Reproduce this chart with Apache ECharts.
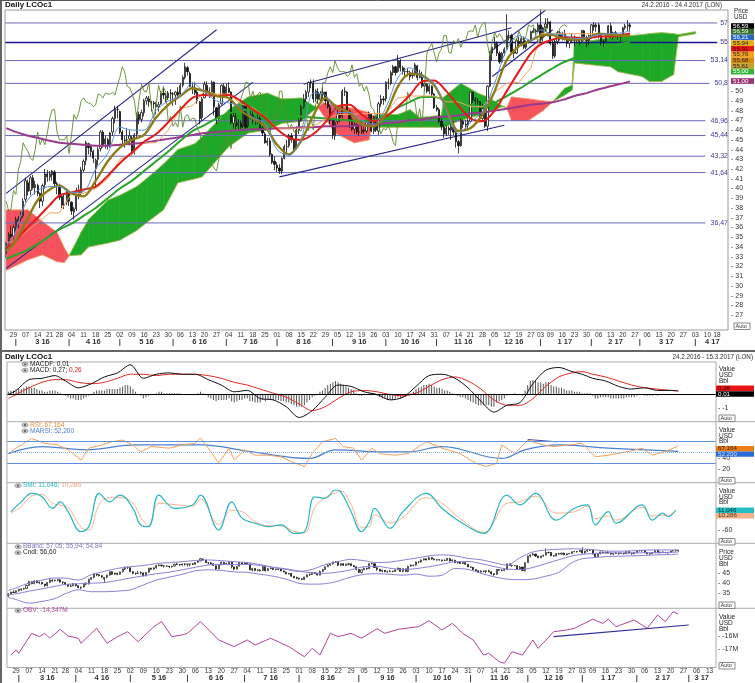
<!DOCTYPE html>
<html><head><meta charset="utf-8"><title>Daily LCOc1</title>
<script src="https://cdn.jsdelivr.net/npm/echarts@6.0.0/dist/echarts.min.js"></script>
<style>html,body{margin:0;padding:0;background:#fff;overflow:hidden}#c{width:755px;height:683px}</style>
</head><body><div id="c"></div>
<script>
// ---------------- DATA ----------------
const holidays = ['2016-03-25','2016-12-26','2017-01-02','2017-04-14','2017-04-17'];
// daily candles [open, close, low, high] from 2016-02-24 to 2017-02-23
const candles = [
[33.3,34.4,32.9,34.6],[34.4,35.3,34.0,35.5],[35.3,35.1,34.9,36.2],
[35.1,36.0,34.8,36.3],[36.0,36.8,35.6,37.1],[36.6,36.9,35.9,37.2],[36.9,37.1,36.6,37.6],[37.2,38.7,37.0,39.0],
[38.9,40.8,38.6,41.1],[40.6,39.7,39.3,40.9],[39.8,41.1,39.3,41.3],[41.1,40.1,39.9,41.4],[40.1,40.4,39.4,40.8],
[40.3,39.5,39.2,40.5],[39.5,38.7,38.0,39.6],[38.7,40.3,38.2,40.5],[40.4,41.5,40.0,42.0],[41.5,41.2,40.7,41.9],
[41.2,41.5,40.8,41.8],[41.4,41.8,40.8,41.9],[41.7,40.5,40.2,41.9],[40.5,40.4,39.4,40.7],
[40.3,39.1,38.8,40.5],[39.2,38.3,38.0,39.4],[38.4,38.3,37.9,39.5],[38.6,39.6,38.3,40.0],[39.5,38.7,38.2,39.8],
[38.6,37.7,37.3,38.7],[37.6,37.9,36.8,38.1],[37.9,39.8,37.7,40.1],[39.8,39.4,38.9,40.4],[39.5,41.9,39.3,42.2],
[41.9,42.8,41.7,43.0],[42.9,44.7,42.4,44.9],[44.6,44.2,43.5,44.7],[44.3,43.8,43.3,44.4],[43.8,43.1,42.6,44.0],
[42.0,42.9,40.1,43.1],[43.0,44.0,42.4,44.3],[44.1,45.8,43.8,46.0],[45.8,44.5,44.2,46.0],[44.6,45.1,44.1,45.4],
[45.0,44.5,44.0,45.2],[44.5,45.7,44.2,45.8],[45.8,47.2,45.4,47.4],[47.2,48.1,46.7,48.5],[48.1,48.1,47.2,48.5],
[47.9,45.8,45.6,48.0],[45.8,45.0,44.4,46.0],[44.9,45.0,44.2,45.4],[45.0,45.0,44.6,46.2],[45.1,45.4,44.4,46.0],
[45.2,43.6,43.4,45.4],[43.7,45.5,43.5,45.7],[45.6,47.6,45.2,47.8],[47.6,47.1,46.6,47.9],[47.1,47.8,46.8,48.1],
[47.8,49.0,47.4,49.2],[49.0,49.3,48.6,49.5],[49.2,48.9,48.4,49.5],[48.9,48.8,47.9,49.0],[48.8,48.7,48.2,49.0],
[48.6,48.4,47.6,48.9],[48.4,48.6,47.9,48.9],[48.7,49.7,48.6,50.0],[49.8,49.6,49.2,50.5],[49.5,49.3,48.8,49.8],
[49.3,49.8,49.1,50.0],[49.8,49.7,48.9,50.2],[49.7,49.7,48.5,49.9],[49.6,49.9,48.6,50.0],[49.9,49.6,49.3,50.4],
[49.7,50.6,49.4,50.8],[50.6,51.4,50.4,51.6],[51.4,52.5,51.2,52.9],[52.4,52.0,51.6,52.6],[51.8,50.5,50.4,52.0],
[50.4,50.4,49.7,50.9],[50.3,49.8,49.6,50.9],[49.9,49.0,48.7,50.2],[48.9,47.2,46.6,49.0],[47.3,49.2,47.0,49.4],
[49.3,50.7,49.3,51.0],[50.6,50.0,49.5,51.0],[50.0,49.9,49.3,50.4],[49.9,50.9,49.9,51.1],[50.9,48.4,47.5,51.0],
[48.3,47.2,46.6,48.4],[47.2,48.6,47.0,48.8],[48.7,50.6,48.6,50.7],[50.5,49.7,49.4,50.8],[49.6,50.4,49.4,50.8],
[50.3,49.9,49.8,50.9],[49.9,46.8,46.6,50.0],[46.7,47.4,46.0,47.8],[47.5,46.4,46.1,47.8],[46.5,46.8,45.9,47.1],
[46.7,46.3,45.9,47.0],[46.4,48.5,46.2,48.6],[48.5,46.3,46.0,48.6],[46.4,47.4,46.2,47.7],[47.4,47.6,47.1,48.0],
[47.5,47.0,46.6,47.9],[47.0,47.2,46.5,47.3],[47.1,47.2,46.6,47.6],[47.2,46.2,46.1,47.4],[46.2,45.7,45.4,46.4],
[45.6,44.7,44.6,45.8],[44.7,44.9,44.4,45.2],[44.9,43.5,43.3,45.2],[43.5,42.7,42.5,43.6],[42.8,42.5,41.9,43.3],
[42.4,42.1,41.7,42.7],[42.1,41.8,41.5,42.5],[41.8,43.1,41.5,43.2],[43.1,44.3,43.0,44.5],[44.3,44.3,43.6,45.0],
[44.4,45.4,44.2,45.6],[45.4,45.0,44.7,45.7],[45.0,44.1,43.9,45.1],[44.1,46.0,44.0,46.4],[46.0,47.0,45.6,47.2],
[47.0,48.4,46.9,48.6],[48.4,49.2,48.2,49.7],[49.2,49.9,48.9,50.1],[49.9,50.9,49.4,51.0],[50.9,50.9,50.3,51.2],
[50.8,49.2,48.8,51.2],[49.2,50.0,48.9,50.2],[49.9,49.1,48.7,50.3],[49.1,49.7,48.9,50.0],[49.6,49.9,49.1,50.4],
[49.9,49.0,48.6,49.9],[49.0,48.4,48.2,49.2],[48.3,47.0,46.6,48.6],[47.0,45.5,45.1,47.2],[45.4,46.8,45.0,47.0],
[46.9,47.6,46.6,48.1],[47.6,47.3,46.8,47.9],[47.4,50.0,47.2,50.2],[49.9,50.0,49.5,50.4],[49.9,48.0,47.8,50.0],
[47.9,47.1,46.2,48.1],[47.1,46.1,45.9,47.3],[46.1,46.6,45.6,46.9],[46.6,45.8,45.6,46.7],[45.8,45.8,45.4,46.4],
[45.8,46.0,45.6,46.8],[46.0,45.9,45.6,46.3],[45.9,46.8,45.7,47.1],[46.8,47.7,46.6,47.9],[47.6,45.9,45.8,47.7],
[45.9,47.4,45.6,47.5],[47.3,46.0,45.8,47.4],[45.9,48.7,45.5,48.9],[48.7,49.2,48.4,49.6],[49.2,49.1,48.6,49.5],
[49.2,50.9,48.9,51.0],[50.9,50.9,50.2,51.3],[50.8,51.9,50.6,52.1],[51.9,52.5,51.6,52.7],[52.5,51.9,51.6,52.6],
[52.0,53.1,51.9,53.7],[53.1,52.4,52.0,53.3],[52.4,52.0,51.7,52.6],[52.0,52.0,51.4,52.4],[52.0,52.0,51.5,52.4],
[51.9,51.5,51.1,52.1],[51.6,51.7,51.3,52.2],[51.7,52.7,51.5,52.9],[52.6,51.4,51.1,52.7],[51.4,51.8,51.3,52.2],
[51.7,50.5,50.3,52.0],[50.5,50.8,50.0,51.1],[50.7,50.0,49.8,50.8],[50.0,50.5,49.7,50.7],[50.5,49.7,49.4,50.6],
[49.7,48.3,48.2,49.8],[48.3,48.1,47.9,48.6],[48.1,46.9,46.7,48.3],[46.9,46.4,46.0,47.2],[46.3,45.6,45.2,46.6],
[45.6,46.2,45.4,46.5],[46.2,46.0,45.5,46.4],[46.0,46.4,45.0,46.6],[46.3,45.8,45.5,46.9],[45.8,44.8,44.2,45.9],
[44.8,44.4,43.6,45.0],[44.4,47.0,44.3,47.2],[46.9,46.6,46.2,47.1],[46.6,46.5,46.0,47.0],[46.5,46.9,46.1,47.2],
[46.9,49.9,46.8,49.9],[49.9,49.1,48.8,49.9],[49.1,49.0,48.3,49.4],[49.0,49.0,48.6,49.3],[48.9,47.2,46.8,49.0],
[47.2,48.2,46.9,48.7],[48.2,46.4,46.2,48.3],[46.4,50.5,45.9,50.6],[50.5,53.9,50.4,54.1],[53.9,54.5,53.1,54.6],
[54.5,54.9,54.3,55.6],[54.9,53.9,53.6,55.1],[53.9,53.0,52.8,54.1],[53.0,53.9,52.9,54.0],[53.9,54.3,53.6,54.5],
[54.3,55.7,54.3,57.9],[55.7,55.7,55.2,56.2],[55.7,54.0,53.8,55.9],[54.0,53.9,53.4,54.3],[53.9,55.2,53.8,55.4],
[55.1,54.9,54.5,55.6],[54.9,55.4,54.6,55.6],[55.4,54.5,54.3,55.6],[54.5,55.1,54.3,55.2],[55.0,55.2,54.9,55.3],
[55.2,56.1,55.1,56.2],[56.0,56.2,56.0,56.5],[56.2,56.1,55.7,56.4],[56.1,56.8,56.0,57.0],
[56.8,55.5,55.1,58.4],[55.5,56.5,55.1,56.6],[56.5,56.9,56.1,57.5],[56.9,57.1,56.4,57.5],
[57.1,54.9,54.7,57.2],[54.9,53.6,53.3,55.2],[53.6,55.1,53.4,55.3],[55.1,56.0,54.8,56.2],[56.0,55.5,55.2,56.2],
[55.5,55.9,55.2,56.1],[55.9,55.5,55.2,56.3],[55.5,54.9,54.5,55.6],[54.9,55.2,54.4,55.3],[55.2,55.5,55.0,55.9],
[55.5,55.2,54.6,55.7],[55.2,55.4,54.9,55.5],[55.4,55.1,54.7,55.6],[55.1,56.2,55.0,56.3],[56.2,55.5,55.2,56.3],
[55.5,55.2,54.5,55.7],[55.2,55.7,54.7,55.8],[55.7,56.8,55.4,56.9],[56.8,56.6,56.2,57.1],[56.6,56.8,56.1,57.0],
[56.8,55.7,55.4,57.0],[55.7,55.1,54.7,55.8],[55.1,55.1,54.5,55.3],[55.1,55.6,55.0,55.8],[55.6,56.7,55.5,56.8],
[56.7,55.6,55.4,57.0],[55.6,56.0,55.3,56.1],[56.0,55.8,55.5,56.2],[55.8,55.7,55.3,55.9],[55.6,55.8,55.1,55.9],
[55.8,56.5,55.6,56.6],[56.5,56.7,56.3,56.9],[56.7,56.8,56.2,57.3],[56.8,56.6,56.1,57.0]
];
// weekly sample positions (trading-day index) for indicator lines
const wk = [0,3,8,13,18,22,27,32,37,42,47,52,57,62,67,72,77,82,87,92,97,102,107,112,117,122,127,132,137,142,147,152,157,162,167,172,177,182,187,192,197,202,207,212,217,221,225,230,235,240,245,250,255,258];
const maRed = [33.9,34.4,35.8,37.0,38.3,39.3,39.6,39.9,40.2,41.3,42.6,43.7,44.8,45.6,46.8,48.1,49.3,49.6,49.5,49.6,49.0,48.1,47.3,46.1,45.2,45.0,45.6,46.8,48.4,48.6,47.6,46.9,47.4,48.4,49.6,51.0,51.1,50.0,48.5,47.2,46.9,48.0,50.0,52.0,53.9,54.8,55.2,55.5,55.5,55.4,55.6,55.6,55.8,55.91];
const maOlive = [33.6,34.3,36.5,38.8,39.9,40.3,39.5,39.2,40.8,42.8,44.2,45.0,45.5,47.3,48.6,49.5,50.3,50.0,49.5,49.3,48.0,47.2,46.4,44.5,43.5,44.9,47.5,49.3,48.3,47.8,46.6,46.4,47.7,50.5,51.8,51.6,50.6,48.3,45.9,46.2,47.6,50.0,53.2,54.6,55.2,55.7,55.8,55.4,55.3,55.4,55.9,55.8,55.7,55.68];
const maGreen = [32.8,33.1,33.6,34.3,35.1,35.8,36.4,37.2,38.0,39.0,40.0,40.8,41.8,42.8,43.8,44.9,45.9,46.5,47.2,47.7,48.0,48.2,48.3,48.0,47.6,47.4,47.3,47.2,47.1,47.0,46.9,47.0,47.4,48.3,48.9,49.4,49.4,49.0,48.6,48.6,48.4,48.8,49.5,50.2,51.0,51.6,52.2,52.9,53.4,53.9,54.3,54.6,54.9,55.0];
const ma200 = [46.2,45.9,45.5,45.2,44.9,44.7,44.6,44.5,44.4,44.4,44.5,44.6,44.7,44.9,45.1,45.3,45.5,45.7,45.8,45.9,46.0,46.1,46.1,46.2,46.2,46.3,46.3,46.4,46.4,46.4,46.5,46.5,46.7,46.8,47.0,47.1,47.3,47.4,47.5,47.7,47.8,48.0,48.2,48.4,48.6,48.7,48.8,49.1,49.5,49.8,50.2,50.5,50.8,51.0];
const tenkan = [34.0,35.0,38.5,39.8,40.2,40.2,39.6,39.7,42.0,43.6,46.3,46.0,46.0,48.0,49.0,49.5,50.8,49.9,49.0,48.8,48.4,47.3,46.7,44.0,43.4,45.1,49.8,49.6,47.8,47.8,47.0,46.6,48.3,51.4,52.4,51.5,50.8,48.0,45.6,46.8,47.9,50.8,54.3,55.7,55.2,56.3,55.9,55.8,55.4,55.5,55.8,55.9,56.0,56.21];
const kijunOrange = [34.5,34.5,35.5,36.5,37.5,37.5,39.5,39.5,40.0,41.0,43.0,43.5,44.7,44.7,46.0,48.2,48.5,50.0,49.7,49.7,48.7,48.3,47.4,46.2,46.2,46.2,46.4,47.1,47.6,47.6,47.7,47.7,47.7,49.3,49.5,49.5,49.5,48.9,48.9,48.4,48.4,49.9,50.8,50.9,52.4,55.9,55.9,55.9,55.9,55.9,55.9,55.9,55.8,55.76];
// ichimoku cloud
const cloudIdx = [0,9,15,21,24,26,31,34,42,47,54,58,65,71,78,81,92,100,108,114,122,127,129,131,136,144,150,152,153,162,167,171,180,181,188,195,199,205,207,209,216,222,226,231,234,235,250,253,263,266,271,276,278,285];
const spanA = [31.6,32.7,33.2,32.5,32.4,33.1,35.5,36.8,38.8,39.3,40.2,41.0,42.5,44.0,44.6,45.3,48.1,49.4,49.8,49.2,49.3,48.5,48.3,47.6,45.7,44.7,45.0,47.3,47.6,47.6,48.1,47.3,47.5,49.4,50.8,49.8,49.4,48.5,48.3,47.0,47.0,48.0,48.9,50.3,50.6,54.9,55.5,55.6,55.8,55.9,56.0,55.9,55.8,56.1];
const spanB = [37.8,37.8,36.6,35.5,33.9,33.1,33.2,34.0,34.4,34.7,35.7,36.5,37.8,40.6,41.0,41.2,44.3,45.7,46.0,46.7,46.9,48.0,48.3,48.8,48.6,48.2,47.8,47.4,46.3,46.3,46.3,46.3,46.3,46.3,47.0,47.5,47.8,48.4,48.3,49.4,49.2,49.0,48.9,49.6,50.1,52.9,52.5,52.0,51.5,51.0,51.0,51.7,55.6,55.9];
const levels = [57,55,53.14,50.8,46.96,45.44,43.32,41.64,36.47];
const levelLabels = ['57','55','53,14','50,8','46,96','45,44','43,32','41,64','36,47'];
// trend lines [startIdx, startVal, endIdx, endVal]
const trendMain = [[0,39.5,87,56.3],[0,31.8,102,50.9],[113,41.2,206,46.5],[123,50.7,209,56.5],[200,54.0,223,58.3],[201,51.5,226,56.3]];
// MACD
const macdLine = [0.0,0.3,1.1,1.2,1.4,1.0,0.5,0.8,1.3,1.6,2.2,1.2,1.5,1.6,1.5,1.5,1.1,0.7,0.2,0.3,-0.3,-0.4,-0.9,-1.7,-1.2,-0.2,0.7,0.6,0.2,0.0,-0.4,-0.2,0.6,1.4,1.5,1.2,0.5,-0.5,-1.3,-0.8,-0.6,0.8,1.8,2.0,1.7,1.5,1.2,1.0,0.6,0.4,0.5,0.3,0.3,0.27];
const macdSignal = [-0.3,0.0,0.5,0.9,1.1,1.1,0.9,0.8,0.9,1.2,1.5,1.5,1.4,1.5,1.5,1.5,1.4,1.2,0.9,0.7,0.4,0.1,-0.2,-0.7,-1.2,-0.9,-0.3,0.2,0.3,0.2,0.0,-0.1,0.1,0.6,1.1,1.3,1.0,0.4,-0.4,-0.8,-0.8,-0.3,0.6,1.3,1.6,1.7,1.5,1.3,1.0,0.7,0.5,0.4,0.3,0.26];
const macdHist = [0.2,0.3,0.3,
0.3,0.4,0.4,0.5,0.6, 0.6,0.5,0.5,0.4,0.3, 0.3,0.2,0.2,0.3,0.3, 0.3,0.2,0.1,0.0,
-0.1,-0.2,-0.3,-0.3,-0.4, -0.4,-0.4,-0.3,-0.2,-0.1, 0.0,0.2,0.3,0.3,0.3, 0.3,0.4,0.4,0.4,0.4, 0.4,0.5,0.6,0.7,0.7,
0.6,0.4,0.2,0.0,-0.1, -0.3,-0.2,-0.1,0.0,0.0, 0.1,0.2,0.2,0.1,0.1, 0.1,0.1,0.1,0.1,0.1, 0.0,0.0,0.0,0.0,0.0,
0.0,0.1,0.2,0.1,0.0, -0.2,-0.3,-0.4,-0.5,-0.4, -0.4,-0.4,-0.4,-0.3,-0.5, -0.6,-0.5,-0.4,-0.4,-0.3, -0.3,-0.5,-0.5,-0.6,-0.6,
-0.6,-0.4,-0.5,-0.4,-0.4, -0.4,-0.4,-0.4,-0.5,-0.5, -0.6,-0.6,-0.7,-0.8,-0.9, -0.9,-0.9,-0.8,-0.6,-0.4, -0.2,-0.1,0.0,0.2,0.3,
0.5,0.7,0.8,0.9,1.0, 0.9,0.8,0.7,0.6,0.5, 0.4,0.3,0.1,-0.1,-0.1, 0.0,0.0,0.1,0.1,0.0, -0.1,-0.2,-0.3,-0.3,-0.4,
-0.4,-0.4,-0.3,-0.2,-0.3, -0.2,-0.2,0.0,0.1,0.2, 0.4,0.5,0.6,0.7,0.7, 0.8,0.7,0.6,0.5,0.5, 0.4,0.3,0.3,0.2,0.1,
0.0,-0.1,-0.2,-0.2,-0.3, -0.4,-0.5,-0.6,-0.7,-0.8, -0.8,-0.8,-0.8,-0.8,-0.9, -0.9,-0.6,-0.5,-0.4,-0.3, -0.1,0.0,0.0,0.1,0.0,
0.0,-0.1,0.3,0.7,1.0, 1.1,1.0,0.9,0.9,0.8, 0.9,0.9,0.7,0.6,0.6, 0.5,0.5,0.4,0.3,0.3, 0.3,0.2,0.2,0.2, 0.1,0.1,0.1,0.1,
-0.1,-0.3,-0.3,-0.2,-0.2, -0.2,-0.2,-0.3,-0.3,-0.3, -0.3,-0.3,-0.3,-0.2,-0.2, -0.2,-0.2,-0.1,0.0,0.0,
-0.1,-0.1,-0.1,-0.1,0.0, -0.1,0.0,0.0,0.0,0.0, 0.0,0.0,0.0,0.01];
// RSI
const rsiIdx = [1,5,9,14,19,23,28,31,36,40,44,48,51,55,62,67,72,74,77,81,85,87,91,95,100,105,109,114,117,121,126,129,133,136,140,143,149,154,161,167,174,180,184,188,190,195,200,206,210,216,221,226,231,239,244,248,253,256,258];
const rsiVal = [52,64,76,67,64,55,36,58,64,70,73,64,51,61,58,64,67,77,58,30,58,36,55,45,45,42,33,24,48,70,76,61,58,36,58,48,45,48,70,58,48,30,24,30,64,48,73,64,61,64,67,42,45,52,58,45,52,58,62];
const maRsiIdx = [0,13,30,49,74,94,116,126,144,154,167,190,199,213,231,258];
const maRsiVal = [48,61,55,64,64,51,39,55,51,51,61,39,55,64,58,52.2];
const rsiLevels = [70,50,30];
const rsiTrend = [[200,74,211,70]];
// SMI
const smiIdx = [1,5,9,13,17,20,23,28,31,35,39,43,48,51,54,58,64,71,74,81,86,90,95,100,105,110,114,118,122,126,128,132,136,139,141,147,152,161,167,174,183,192,197,203,211,218,223,226,231,234,244,248,252,254,257];
const smiK = [5,40,70,58,17,40,5,-66,-48,70,40,64,17,-42,-48,64,17,29,64,-60,40,-18,-36,-48,-42,-72,-66,58,53,82,76,5,-66,-31,17,-54,5,70,17,-31,-72,64,29,70,-25,17,29,-42,5,-36,29,-25,0,-13,11];
const smiD = [0,25,60,66,35,28,20,-50,-60,30,55,55,35,-15,-45,35,30,25,50,-40,10,5,-30,-45,-45,-65,-70,20,55,72,78,30,-50,-48,-5,-35,-15,55,35,-20,-68,35,40,60,0,5,25,-20,-10,-25,20,-10,-8,-8,10.3];
// Bollinger bands (middle band = maRed)
const bbUp = [36.1,37.5,40.0,41.5,42.6,42.5,41.5,44.3,46.0,47.5,48.4,49.0,50.0,50.5,51.0,51.6,51.9,51.5,51.0,50.5,49.5,48.0,47.0,46.0,47.0,49.5,51.0,52.2,51.5,50.5,50.8,51.8,52.8,54.0,54.5,54.0,52.7,52.0,50.5,49.2,53.0,56.0,57.0,57.4,57.6,57.5,57.2,56.5,56.4,56.6,56.9,57.1,57.0,57.05];
const bbLow = [32.5,31.5,29.6,30.5,32.0,34.5,36.5,35.5,35.5,35.8,36.5,39.0,41.5,43.0,44.5,46.3,46.8,46.5,45.7,45.5,44.5,43.5,42.0,39.8,39.4,39.6,41.0,43.1,44.5,44.8,44.5,44.0,44.6,43.5,44.0,47.5,47.0,45.0,43.2,42.0,41.7,42.0,43.5,45.5,50.5,52.5,53.0,53.6,53.8,54.0,54.2,54.5,54.7,54.84];
// OBV (millions)
const obvIdx = [1,3,4,9,12,14,16,20,23,27,28,34,38,42,46,50,56,59,63,67,69,74,81,87,92,95,101,108,114,117,120,124,127,132,136,142,145,150,158,162,167,171,175,179,183,185,189,191,194,198,202,204,210,215,218,225,229,231,234,241,246,250,253,256,258];
const obvVal = [-17.43,-17.05,-17.3,-15.8,-16.05,-15.8,-16.17,-15.5,-16.0,-16.17,-16.55,-15.42,-16.55,-16.05,-15.68,-16.43,-15.3,-14.92,-16.05,-15.92,-15.8,-14.92,-16.3,-16.8,-16.3,-16.68,-16.17,-16.8,-17.56,-16.93,-17.43,-15.8,-16.05,-15.8,-16.17,-15.45,-15.8,-15.5,-15.3,-14.85,-15.55,-15.05,-15.8,-16.3,-17.43,-17.3,-17.93,-18.05,-17.18,-17.43,-16.3,-16.93,-15.68,-15.55,-15.42,-14.74,-15.05,-14.74,-15.3,-14.8,-15.42,-14.42,-14.92,-14.17,-14.35];
const obvTrend = [[210,-16.05,262,-15.17]];
// right-hand value boxes
const topBoxTexts = ['56,59','56,59','56,21','55,94','55,91','55,76','55,68','55,61','55,00'];
const topBoxColors = ['#000000','#3f6f2c','#2566c6','#e6b010','#e8161c','#f4a21c','#dc8a0e','#c4a232','#36b436'];
const topBoxText = ['#fff','#dfe','#fff','#222','#400','#222','#222','#222','#fff'];

// ---------------- HELPERS ----------------
const F = "'Liberation Sans', Arial, sans-serif";
function tradingDays(a, b) {
  const out = []; const d = new Date(a + 'T00:00:00Z'); const e = new Date(b + 'T00:00:00Z');
  while (d <= e) { const w = d.getUTCDay(); const s = d.toISOString().slice(0, 10);
    if (w > 0 && w < 6 && holidays.indexOf(s) < 0) out.push(s); d.setUTCDate(d.getUTCDate() + 1); }
  return out;
}
function axisMarks(days) {
  const wd = s => new Date(s + 'T00:00:00Z').getUTCDay();
  const n = days.length;
  const dayLab = days.map((s, i) => (i > 0 && i < n - 2 && wd(s) <= wd(days[i - 1])) ? s.slice(8, 10) : '');
  const monLab = days.map(() => '');
  let st = -1;
  for (let i = 1; i <= n; i++) {
    if (i === n || days[i].slice(5, 7) !== days[i - 1].slice(5, 7)) {
      if (st >= 0) { const c = Math.round((st + i - 1) / 2); monLab[c] = (+days[st].slice(5, 7)) + ' ' + days[st].slice(2, 4); }
      if (i < n) { monLab[i] = '|'; st = i; }
    }
  }
  return { dayLab, monLab };
}
const topDays = tradingDays('2016-02-24', '2017-04-24');
const botDays = tradingDays('2016-02-24', '2017-03-15');
const topM = axisMarks(topDays), botM = axisMarks(botDays);
const pairs = (ix, arr) => ix.map((k, i) => [k, arr[i]]);

function cloudRender(p, api) {
  const x0 = api.value(0), a0 = api.value(1), b0 = api.value(2), x1 = api.value(3), a1 = api.value(4), b1 = api.value(5);
  const A0 = api.coord([x0, a0]), A1 = api.coord([x1, a1]), B1 = api.coord([x1, b1]), B0 = api.coord([x0, b0]);
  const g = (a0 + a1) >= (b0 + b1);
  const col = g ? '#1ea828' : '#f4525c';
  return { type: 'group', children: [
    { type: 'polygon', shape: { points: [A0, A1, B1, B0] }, style: { fill: col, stroke: col, lineWidth: 0.6 } },
    { type: 'line', shape: { x1: A0[0], y1: A0[1], x2: A1[0], y2: A1[1] }, style: { stroke: g ? '#d8c44a' : '#f2b35a', lineWidth: 0.7, opacity: 0.8 } },
    { type: 'line', shape: { x1: B0[0], y1: B0[1], x2: B1[0], y2: B1[1] }, style: { stroke: '#f2b35a', lineWidth: 0.7, opacity: 0.8 } }
  ] };
}
function levelRender(p, api) {
  const v = api.value(1), i = api.value(2); const cs = p.coordSys;
  const y = api.coord([0, v])[1]; const t = levelLabels[i];
  const right = cs.x + cs.width; const tw = t.length * 3.9 + 3;
  return { type: 'group', children: [
    { type: 'line', shape: { x1: cs.x, y1: y, x2: right - tw, y2: y }, style: { stroke: i === 1 ? '#16168a' : '#6a6ab6', lineWidth: i === 1 ? 1.5 : 1 } },
    { type: 'text', style: { text: t, x: right, y: y, align: 'right', textAlign: 'right', verticalAlign: 'middle', textVerticalAlign: 'middle', fill: '#3a3a9a', font: '7px ' + F } }
  ] };
}
function segRender(color) {
  return function (p, api) {
    const a = api.coord([api.value(0), api.value(1)]), b = api.coord([api.value(2), api.value(3)]);
    return { type: 'line', shape: { x1: a[0], y1: a[1], x2: b[0], y2: b[1] }, style: { stroke: color, lineWidth: 1.1 } };
  };
}
const line = (name, xi, yi, data, color, w, extra) => Object.assign({ name, type: 'line', xAxisIndex: xi, yAxisIndex: yi, data, showSymbol: false, symbol: 'none', smooth: 0.3, lineStyle: { color, width: w }, itemStyle: { color }, silent: true, animation: false }, extra || {});

// ---------------- AXES ----------------
const grids = [
  { left: 5, right: 27, top: 3.48, height: 331.16 },
  { left: 7, right: 39, top: 354, height: 67.5 },
  { left: 7, right: 39, top: 414.7, height: 75.6 },
  { left: 7, right: 39, top: 479.3, height: 67.6 },
  { left: 7, right: 39, top: 544.2, height: 67.9 },
  { left: 7, right: 39, top: 596.1, height: 79.8 }
].map(g => Object.assign(g, { containLabel: false, outerBoundsMode: 'none', show: false }));
const hiddenX = g => ({ type: 'category', gridIndex: g, data: botDays, boundaryGap: true, axisLine: { show: false }, axisTick: { show: false }, axisLabel: { show: false }, splitLine: { show: false } });
const labelX = (g, days, labs, off, bold) => ({ type: 'category', gridIndex: g, data: days, boundaryGap: true, position: 'bottom', offset: off,
  axisLine: { show: false }, axisTick: { show: false }, splitLine: { show: false },
  axisLabel: { show: true, interval: 0, margin: 0, fontSize: bold ? 7.5 : 6.5, fontWeight: bold ? 'bold' : 'normal', color: '#333', fontFamily: F, formatter: (v, i) => labs[i] } });
const xAxis = [
  labelX(0, topDays, topM.dayLab, -2.5, false),
  labelX(0, topDays, topM.monLab, 3, true),
  hiddenX(1), hiddenX(2), hiddenX(3), hiddenX(4),
  labelX(5, botDays, botM.dayLab, -8, false),
  labelX(5, botDays, botM.monLab, -1.5, true)
];
const yA = (g, min, max, interval, fmt, m) => ({ type: 'value', gridIndex: g, position: 'right', min, max, interval,
  axisLine: { show: false }, axisTick: { show: false }, splitLine: { show: false },
  axisLabel: { show: true, margin: m, fontSize: 7, color: '#333', fontFamily: F, formatter: fmt } });
const yAxis = [
  yA(0, 25, 59, 1, v => (v >= 27 && v <= 50) ? '- ' + v : '', 3),
  yA(1, -2, 3, 1, v => v === -1 ? '- -1' : '', 2),
  yA(2, -20, 120, 20, v => (v === 20 || v === 40) ? '- ' + v : '', 2),
  yA(3, -120, 120, 20, v => v === -60 ? '- -60' : '', 2),
  yA(4, 25, 60, 5, v => (v >= 35 && v <= 45) ? '- ' + v : '', 2),
  yA(5, -19, -13, 1, v => (v === -16 || v === -17) ? '- ' + v + 'M' : '', 2)
];

// ---------------- SERIES ----------------
const series = [];
// main panel
series.push({ type: 'custom', xAxisIndex: 0, yAxisIndex: 0, renderItem: cloudRender, silent: true, animation: false, clip: true,
  encode: { x: 0, y: 1 }, data: cloudIdx.slice(0, -1).map((k, i) => [k, spanA[i], spanB[i], cloudIdx[i + 1], spanA[i + 1], spanB[i + 1]]) });
series.push({ type: 'custom', xAxisIndex: 0, yAxisIndex: 0, renderItem: levelRender, silent: true, animation: false, clip: false,
  encode: { x: 0, y: 1 }, data: levels.map((v, i) => [0, v, i]) });
series.push(line('chikou', 0, 0, candles.slice(26).map((c, i) => [i, c[1]]), '#5f8a2a', 0.9, { smooth: false }));
series.push(line('ma200', 0, 0, pairs(wk, ma200), '#9a3a8e', 2));
series.push(line('ma50', 0, 0, pairs(wk, maGreen), '#27a627', 2));
series.push(line('kijun', 0, 0, pairs(wk, kijunOrange), '#f2a35e', 1, { smooth: false, step: false }));
series.push(line('ma20', 0, 0, pairs(wk, maRed), '#e51a1a', 2));
series.push(line('ma10', 0, 0, pairs(wk, maOlive), '#8f7c18', 2.4));
series.push(line('tenkan', 0, 0, pairs(wk, tenkan), '#5a93dc', 1));
series.push({ type: 'candlestick', xAxisIndex: 0, yAxisIndex: 0, data: candles, barWidth: '72%', silent: true, animation: false,
  itemStyle: { color: '#ffffff', color0: '#111111', borderColor: '#111111', borderColor0: '#111111', borderWidth: 0.8 } });
series.push({ type: 'custom', xAxisIndex: 0, yAxisIndex: 0, renderItem: segRender('#26268f'), silent: true, animation: false, clip: true,
  encode: { x: 0, y: 1 }, data: trendMain });
// MACD
series.push({ type: 'bar', xAxisIndex: 2, yAxisIndex: 1, data: macdHist.map((v, i) => [i, v]), barWidth: 1, itemStyle: { color: '#555' }, silent: true, animation: false });
series.push(line('signal', 2, 1, pairs(wk, macdSignal), '#e02a20', 1));
series.push(line('macd', 2, 1, pairs(wk, macdLine), '#111', 1, { markLine: { silent: true, symbol: 'none', label: { show: false }, lineStyle: { color: '#000', width: 1, type: 'solid' }, data: [{ yAxis: 0 }] } }));
// RSI
series.push(line('marsi', 3, 2, pairs(maRsiIdx, maRsiVal), '#4b80d2', 1.2, { smooth: 0.4,
  markLine: { silent: true, symbol: 'none', label: { show: false }, data: rsiLevels.map(v => ({ yAxis: v, lineStyle: { color: v === 50 ? '#86b2ee' : '#5e8fdc', width: 1, type: v === 50 ? 'dotted' : 'solid' } })) } }));
series.push(line('rsi', 3, 2, pairs(rsiIdx, rsiVal), '#f0a05a', 1, { smooth: false }));
series.push({ type: 'custom', xAxisIndex: 3, yAxisIndex: 2, renderItem: segRender('#4a4aa8'), silent: true, animation: false, encode: { x: 0, y: 1 }, data: rsiTrend });
// SMI
series.push(line('smiD', 4, 3, pairs(smiIdx, smiD), '#f4b48c', 1, { smooth: 0.4 }));
series.push(line('smiK', 4, 3, pairs(smiIdx, smiK), '#29b6c2', 1.2, { smooth: 0.4 }));
// BB
series.push(line('bbUp', 5, 4, pairs(wk, bbUp), '#8c80d6', 1));
series.push(line('bbMid', 5, 4, pairs(wk, maRed), '#8c80d6', 1));
series.push(line('bbLow', 5, 4, pairs(wk, bbLow), '#8c80d6', 1));
series.push({ type: 'candlestick', xAxisIndex: 5, yAxisIndex: 4, data: candles, barWidth: '60%', silent: true, animation: false,
  itemStyle: { color: '#ffffff', color0: '#111111', borderColor: '#111111', borderColor0: '#111111', borderWidth: 0.7 } });
// OBV
series.push(line('obv', 6, 5, pairs(obvIdx, obvVal), '#b2449a', 1, { smooth: false }));
series.push({ type: 'custom', xAxisIndex: 6, yAxisIndex: 5, renderItem: segRender('#2c2c96'), silent: true, animation: false, encode: { x: 0, y: 1 }, data: obvTrend });

// ---------------- STATIC DECORATION ----------------
const G = [];
const T = (x, y, t, o) => { o = o || {}; const st = { text: t, font: (o.b ? 'bold ' : '') + (o.s || 6.5) + 'px ' + F, fill: o.c || '#222',
  align: o.a || 'left', textAlign: o.a || 'left', verticalAlign: 'middle', textVerticalAlign: 'middle' };
  if (o.rich) st.rich = o.rich; G.push({ type: 'text', x, y, z: 120, style: st }); };
const L = (x1, y1, x2, y2, c, w) => G.push({ type: 'line', z: 90, shape: { x1, y1, x2, y2 }, style: { stroke: c, lineWidth: w || 1 } });
const R = (x, y, w, h, fill, stroke, z) => G.push({ type: 'rect', z: z || 100, shape: { x, y, width: w, height: h }, style: { fill: fill || 'none', stroke: stroke || null, lineWidth: 1 } });
const box = (x, y, w, h, fill, t, tc) => { R(x, y, w, h, fill, null, 110); T(x + 2, y + h / 2, t, { c: tc, s: 6.2 }); };
const auto = (x, y) => { R(x, y, 16, 6.5, '#fff', '#888', 110); T(x + 1.5, y + 3.3, 'Auto', { s: 5.5, c: '#333' }); };
const eye = (x, y) => { G.push({ type: 'ellipse', z: 115, shape: { cx: x, cy: y, rx: 3.2, ry: 2 }, style: { fill: '#c8c8c8', stroke: '#777', lineWidth: 0.6 } });
  G.push({ type: 'circle', z: 116, shape: { cx: x, cy: y, r: 0.9 }, style: { fill: '#444' } }); };

// outer
L(1, 0, 1, 683, '#666', 2); L(0, 0.5, 755, 0.5, '#555', 1);
// main panel
R(5, 10, 723, 320, null, '#9a9a9a', 95);
T(5, 5, 'Daily LCOc1', { b: true, s: 8, c: '#111' });
T(722, 5.5, '24.2.2016 - 24.4.2017 (LON)', { a: 'right', s: 6.3, c: '#333' });
T(734, 11.5, 'Price', { s: 6.3 }); T(734, 17.5, 'USD', { s: 6.3 });
topBoxTexts.forEach((t, i) => box(731, 23.2 + i * 5.7, 23, 5.7, topBoxColors[i], t, topBoxText[i]));
box(731, 78.2, 23, 5.7, '#9a3478', '51,00', '#fff');
auto(734, 323);
// section divider
L(0, 351, 755, 351, '#666', 2);
T(5, 356.7, 'Daily LCOc1', { b: true, s: 8, c: '#111' });
T(753, 357, '24.2.2016 - 15.3.2017 (LON)', { a: 'right', s: 6.3, c: '#333' });
// lower frames
L(7, 362, 716, 362, '#aaa'); [421.7, 482.7, 543.3, 608.3].forEach(y => L(7, y, 755, y, '#aaa')); L(7, 667.5, 716, 667.5, '#aaa');
L(7, 362, 7, 667.5, '#aaa'); L(716, 362, 716, 667.5, '#aaa');
// right labels lower
const vub = (y0, first) => { T(719, y0, first || 'Value'); T(719, y0 + 6, 'USD'); T(719, y0 + 11.6, 'Bbl'); };
vub(369.7); box(716, 385.5, 38, 5.6, '#e81414', '0,28', '#300'); box(716, 391.2, 38, 5.6, '#000', '0,01', '#fff'); auto(719, 415);
vub(430); box(716, 446, 38, 5.4, '#f07c14', '67,164', '#222'); box(716, 451.4, 38, 5.4, '#2a6cd4', '52,200', '#cde'); auto(719, 477.5);
vub(491); box(716, 507.6, 38, 5.4, '#22c0c6', '11,046', '#033'); box(716, 513, 38, 5.4, '#f5b088', '10,286', '#432'); auto(719, 538.5);
vub(552.7, 'Price'); auto(719, 602);
vub(617.3); auto(719, 662.5);
// legends
eye(25, 364.3); T(30, 364.3, 'MACDF: 0,01', { c: '#222' });
eye(25, 370.3); T(30, 370.3, 'MACD: 0,27; {r|0,26}', { c: '#222', rich: { r: { fill: '#e0201a', font: '6.5px ' + F } } });
eye(25, 425); T(30, 425, 'RSI: 67,164', { c: '#f08a3a' });
eye(25, 431); T(30, 431, 'MARSI: 52,200', { c: '#4a7ed0' });
eye(18, 485.7); T(23, 485.7, 'SMI: 11,046; {p|10,286}', { c: '#22b4c0', rich: { p: { fill: '#f2a880', font: '6.5px ' + F } } });
eye(18, 546.7); T(23, 546.7, 'BBand: 57,05; 55,94; 54,84', { c: '#8070c8' });
eye(18, 552.7); T(23, 552.7, 'Cndl: 56,60', { c: '#222' });
eye(18, 610.7); T(23, 610.7, 'OBV: -14,347M', { c: '#b4449a' });

const chart = echarts.init(document.getElementById('c'), null, { renderer: 'canvas' });
chart.setOption({
  animation: false, backgroundColor: '#ffffff',
  textStyle: { fontFamily: F },
  grid: grids, xAxis, yAxis, series,
  graphic: { elements: G }
});
</script></body></html>
